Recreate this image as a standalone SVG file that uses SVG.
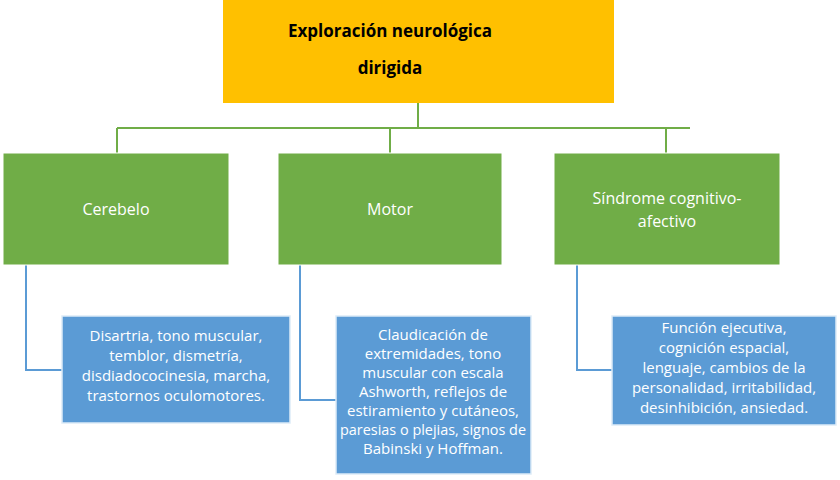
<svg xmlns="http://www.w3.org/2000/svg" width="840" height="480" viewBox="0 0 840 480">
<style>
.g{fill:#70AD47;stroke:#fff;stroke-width:1}
.b{fill:#5B9BD5;stroke:#DDEBF7;stroke-width:1.5}
.t{font-family:"Open Sans","Liberation Sans",sans-serif;font-size:15px;fill:#fff;text-anchor:middle}
.tb{font-family:"Open Sans","Liberation Sans",sans-serif;font-size:17px;font-weight:bold;fill:#000;text-anchor:middle}
.cg{stroke:#70AD47;stroke-width:2;fill:none}
.cb{stroke:#5B9BD5;stroke-width:2;fill:none}
</style>
<rect width="840" height="480" fill="#fff"/>
<g id="connectors">
<path class="cg" d="M418 103V128M117 128H690M117 128V153M390 128V153M666 128V153"/>
<path class="cb" d="M26 265V370H62M300 265V400H336M577 265V370H612"/>
</g>
<g id="root"><rect x="223" y="0" width="391" height="103" fill="#FFC000"/>
<text class="tb" x="390" y="37">Exploración  neurológica</text><text class="tb" x="390" y="74">dirigida</text></g>
<g id="cerebelo"><rect class="g" x="3" y="153" width="226" height="112"/><text class="t" x="116" y="215" style="font-size:16px">Cerebelo</text></g>
<g id="motor"><rect class="g" x="278" y="153" width="224" height="112"/><text class="t" x="390" y="215" style="font-size:16px">Motor</text></g>
<g id="sindrome"><rect class="g" x="554" y="153" width="226" height="112"/><text class="t" x="667" y="204" style="font-size:16px">Síndrome cognitivo-</text><text class="t" x="667" y="227" style="font-size:16px">afectivo</text></g>
<g id="d1"><rect class="b" x="62" y="316" width="228" height="107"/>
<text class="t" x="176" y="341">Disartria, tono muscular,</text><text class="t" x="176" y="361">temblor, dismetría,</text><text class="t" x="176" y="381">disdiadococinesia, marcha,</text><text class="t" x="176" y="401">trastornos oculomotores.</text></g>
<g id="d2"><rect class="b" x="336" y="316" width="195" height="158"/>
<text class="t" x="433" y="340">Claudicación de</text><text class="t" x="433" y="359">extremidades, tono</text><text class="t" x="433" y="378">muscular con escala</text><text class="t" x="433" y="397">Ashworth, reflejos de</text><text class="t" x="433" y="416">estiramiento y cutáneos,</text><text class="t" x="433" y="435" textLength="186" lengthAdjust="spacingAndGlyphs">paresias o plejias, signos de</text><text class="t" x="433" y="454">Babinski y Hoffman.</text></g>
<g id="d3"><rect class="b" x="612" y="316" width="224" height="109"/>
<text class="t" x="724" y="333">Función ejecutiva,</text><text class="t" x="724" y="353">cognición espacial,</text><text class="t" x="724" y="373">lenguaje, cambios de la</text><text class="t" x="724" y="393">personalidad, irritabilidad,</text><text class="t" x="724" y="413">desinhibición, ansiedad.</text></g>
</svg>
